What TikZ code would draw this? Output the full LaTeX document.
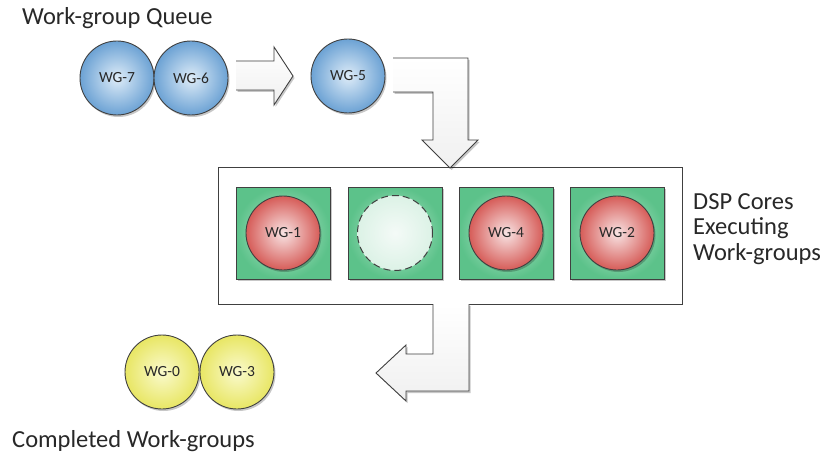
\documentclass[tikz,border=0pt]{standalone}
\usepackage{fontspec}
\setmainfont{Carlito}
\usetikzlibrary{shadows}
\definecolor{lineg}{RGB}{64,64,64}
\definecolor{txt}{RGB}{40,40,40}
\definecolor{blueout}{RGB}{108,162,212}
\definecolor{bluein}{RGB}{222,236,248}
\definecolor{redout}{RGB}{214,92,88}
\definecolor{redin}{RGB}{248,228,228}
\definecolor{yelout}{RGB}{232,230,100}
\definecolor{yelin}{RGB}{250,250,205}
\definecolor{grnout}{RGB}{92,194,138}
\definecolor{grnin}{RGB}{190,235,210}
\definecolor{idleout}{RGB}{220,242,230}
\definecolor{idlein}{RGB}{244,250,247}
\definecolor{arrowin}{RGB}{255,255,255}
\definecolor{arrowout}{RGB}{240,240,240}
\tikzset{
  softshadow/.style={drop shadow={shadow xshift=1.5pt,shadow yshift=-2pt,opacity=0.22,fill=black}},
  wg/.style={circle,minimum size=74pt,inner sep=0pt,draw=lineg,line width=0.9pt,
    shading=radial,font=\fontsize{15.5}{15.5}\selectfont,text=txt,softshadow},
  wgblue/.style={wg,inner color=bluein,outer color=blueout},
  wgred/.style={wg,inner color=redin,outer color=redout},
  wgyellow/.style={wg,inner color=yelin,outer color=yelout},
  wgidle/.style={circle,minimum size=75pt,inner sep=0pt,draw=lineg,line width=1pt,
    dash pattern=on 7pt off 4pt,shading=radial,inner color=idlein,outer color=idleout},
  core/.style={rectangle,minimum width=94pt,minimum height=92pt,inner sep=0pt,
    draw=lineg,line width=0.9pt,shading=radial,inner color=grnin,outer color=grnout,softshadow},
  blockarrow/.style={draw=lineg,line width=0.9pt,top color=arrowin,bottom color=arrowout,
    line join=miter,softshadow},
  label/.style={font=\fontsize{24.5}{25.5}\selectfont,text=txt,inner sep=0pt},
}
\begin{document}
\begin{tikzpicture}[x=1pt,y=-1pt]
\useasboundingbox (0,0) rectangle (826,457);
\fill[white] (0,0) rectangle (826,457);

% queue title
\node[label,anchor=base west] (qtitle) at (22,25) {Work-group Queue};

% waiting work-groups
\node[wgblue] (wg7) at (117,78) {WG-7};
\node[wgblue] (wg6) at (191,78) {WG-6};
\node[wgblue] (wg5) at (348,76) {WG-5};

% open arrow from the queue to the next work-group
\draw[blockarrow] (236,61) -- (274,61) -- (274,47) -- (293,76) -- (274,105) -- (274,90) -- (236,90);

% outer frame of the DSP cores (gap in the bottom edge for the exit arrow)
\coordinate (frameL) at (433,304);
\coordinate (frameR) at (469,304);
\draw[lineg,line width=1pt,fill=white] (frameL) -- (218,304) -- (218,168) -- (682,168) -- (682,304) -- (frameR);

% bent arrow dispatching WG-5 into the cores
\draw[blockarrow] (393,58) -- (468,58) -- (468,140) -- (478,140) -- (450,168) -- (422,140) -- (433,140) -- (433,92) -- (393,92);

% DSP cores
\node[core] (core1) at (283,233) {};
\node[core] (core2) at (395,233) {};
\node[core] (core3) at (506,233) {};
\node[core] (core4) at (617,233) {};
\node[wgred] (wg1) at (core1) {WG-1};
\node[wgidle] (idle) at (core2) {};
\node[wgred] (wg4) at (core3) {WG-4};
\node[wgred] (wg2) at (core4) {WG-2};

\node[label,anchor=base west,align=left] (cores) at (693,260)
  {DSP Cores\\Executing\\Work-groups};

% bent arrow leaving the cores
\fill[white] (frameL) rectangle (469,306);
\draw[blockarrow] (frameL) -- (433,354) -- (406,354) -- (406,345) -- (376,373) -- (406,401) -- (406,391) -- (469,391) -- (frameR);

% completed work-groups
\node[wgyellow] (wg0) at (162,372) {WG-0};
\node[wgyellow] (wg3) at (237,372) {WG-3};
\node[label,anchor=base west] (done) at (12,447) {Completed Work-groups};
\end{tikzpicture}
\end{document}
